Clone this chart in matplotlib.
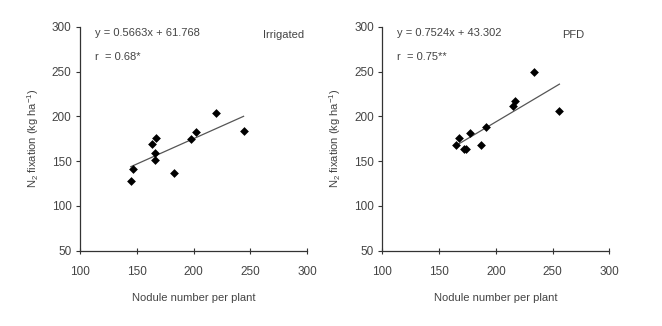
import matplotlib.pyplot as plt
import numpy as np

plt.rcParams['font.family'] = ['Liberation Sans', 'DejaVu Sans']
plt.rcParams['mathtext.fontset'] = 'custom'
plt.rcParams['mathtext.rm'] = 'Liberation Sans'
plt.rcParams['mathtext.it'] = 'Liberation Sans'

# nodule number per plant vs N2 fixation (kg/ha)
irr_nodules = [144.7, 146.8, 163.5, 167.4, 165.9, 166.5, 182.7, 197.4, 202.1, 219.7, 244.1]
irr_n2fix = [128.1, 141.5, 168.7, 176.1, 158.7, 151.6, 136.7, 175.0, 182.8, 204.0, 183.6]
pfd_nodules = [164.9, 167.8, 172.2, 173.5, 177.5, 186.7, 191.6, 215.4, 216.9, 233.9, 256.0]
pfd_n2fix = [168.3, 176.1, 163.8, 163.0, 181.4, 168.3, 187.7, 211.5, 217.4, 249.4, 206.3]

irr_fit = (0.5663, 61.768)
pfd_fit = (0.7524, 43.302)

panels = [
    (irr_nodules, irr_n2fix, irr_fit, 'r  = 0.68*', 'Irrigated', 0.985),
    (pfd_nodules, pfd_n2fix, pfd_fit, 'r  = 0.75**', 'PFD', 0.89),
]

fig = plt.figure(figsize=(6.62, 3.26), dpi=100)
lefts = [0.1208, 0.5775]
txt = '#444444'

for left, (x, y, (m, b), rtxt, name, name_x) in zip(lefts, panels):
    ax = fig.add_axes([left, 0.231, 0.343, 0.687])
    ax.scatter(x, y, marker='D', s=20, color='black', zorder=3, linewidths=0)
    xs = np.array([min(x), max(x)])
    ax.plot(xs, m * xs + b, color='#555555', lw=0.9)

    ax.set_xlim(100, 300)
    ax.set_ylim(50, 300)
    ax.set_xticks([100, 150, 200, 250, 300])
    ax.set_yticks([50, 100, 150, 200, 250, 300])
    for s in ['top', 'right']:
        ax.spines[s].set_visible(False)
    for s in ['left', 'bottom']:
        ax.spines[s].set_color('#333333')
        ax.spines[s].set_linewidth(0.9)
    ax.tick_params(axis='x', direction='inout', length=4, width=0.8,
                   colors='#333333', labelcolor=txt, labelsize=8.5, pad=9)
    ax.tick_params(axis='y', direction='out', length=3, width=0.8,
                   colors='#333333', labelcolor=txt, labelsize=8.5, pad=3)

    ax.set_xlabel('Nodule number per plant', fontsize=8, color=txt, labelpad=11)
    ax.set_ylabel('N$_2$ fixation (kg ha$^{-1}$)', fontsize=8, color=txt, labelpad=8)

    ax.text(0.065, 0.97, 'y = %.4fx + %.3f' % (m, b), transform=ax.transAxes,
            fontsize=8, color=txt, va='center')
    ax.text(0.065, 0.865, rtxt, transform=ax.transAxes,
            fontsize=8, color=txt, va='center')
    ax.text(name_x, 0.965, name, transform=ax.transAxes,
            fontsize=8, color=txt, va='center', ha='right')

fig.savefig('out.png', dpi=100)
